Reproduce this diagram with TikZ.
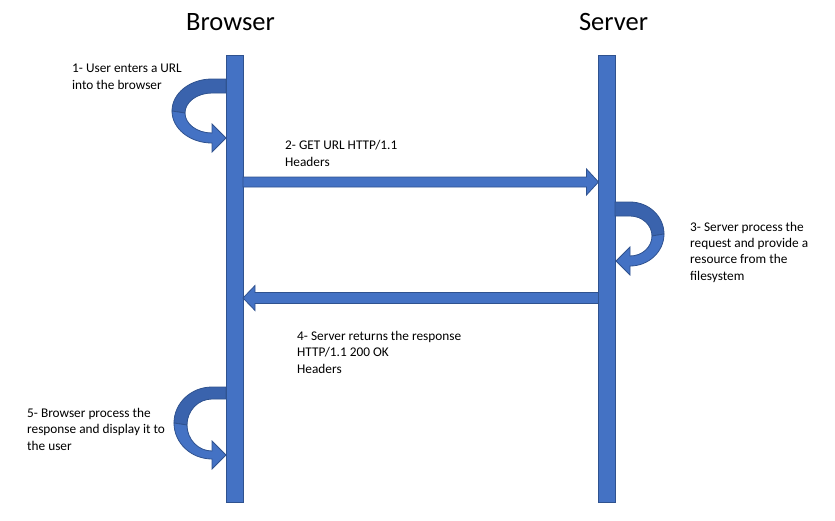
\documentclass[tikz,border=0pt]{standalone}
\usepackage{fontspec}
\setmainfont{Carlito}
\usepackage{tikz}
\usetikzlibrary{positioning,calc}
\definecolor{cFill}{HTML}{4472C4}
\definecolor{cEdge}{HTML}{2F528F}
\definecolor{cBack}{HTML}{3A63AD}
\tikzset{
  bar/.style={draw=cEdge, fill=cFill, line width=0.8pt, inner sep=0pt, outer sep=0pt,
              minimum width=17pt, minimum height=447pt},
  flat/.style={draw=cEdge, fill=cFill, line width=0.8pt, line join=miter},
  flatback/.style={flat, fill=cBack},
  hdr/.style={font=\fontsize{26.5}{30}\selectfont, anchor=base, inner sep=0pt},
  lbl/.style={font=\fontsize{13.3}{16.2}\selectfont, align=left, anchor=base west, inner sep=0pt}
}
\begin{document}
\begin{tikzpicture}[x=1pt, y=-1pt]
\useasboundingbox (0,0) rectangle (835,520);
% lifelines
\node[hdr] (browsertitle) at (230.5,30) {Browser};
\node[hdr] (servertitle) at (613.5,30) {Server};
\node[bar] (browserbar) at (234.5,278.5) {};
\node[bar] (serverbar) at (607,278.5) {};
% 1 - user enters url (self loop)
\draw[flatback] (226,79) -- (212,79) arc[start angle=270, end angle=180, x radius=40, y radius=32]
  -- (185,113) arc[start angle=180, end angle=270, x radius=27, y radius=20] -- (226,93) -- cycle;
\draw[flat] (172,111) arc[start angle=180, end angle=90, x radius=40, y radius=32]
  -- (212,152) -- (226,138) -- (212,124) -- (212,133)
  arc[start angle=90, end angle=180, x radius=27, y radius=20] -- cycle;
\node[lbl] (userurl) at (72,89) {1- User enters a URL\\into the browser};
% 2 - request
\coordinate (req) at (0,182);
\path (browserbar.east |- req) coordinate (reqA) (serverbar.west |- req) coordinate (reqB);
\draw[flat] ($(reqA)+(0,-5)$) -- ($(reqB)+(-12,-5)$) -- ($(reqB)+(-12,-13)$) -- (reqB)
  -- ($(reqB)+(-12,13)$) -- ($(reqB)+(-12,5)$) -- ($(reqA)+(0,5)$) -- cycle;
\node[lbl] (getreq) at (285,166) {2- GET URL HTTP/1.1\\Headers};
% 3 - server process (self loop)
\draw[flatback] (615,202) -- (630,202) arc[start angle=270, end angle=360, x radius=34, y radius=32]
  -- (652,236) arc[start angle=360, end angle=270, x radius=22, y radius=20] -- (615,216) -- cycle;
\draw[flat] (664,234) arc[start angle=0, end angle=90, x radius=34, y radius=32]
  -- (630,275) -- (616,261) -- (630,247) -- (630,256)
  arc[start angle=90, end angle=0, x radius=22, y radius=20] -- cycle;
\node[lbl] (process) at (690,280) {3- Server process the\\request and provide a\\resource from the\\filesystem};
% 4 - response
\coordinate (resp) at (0,298);
\path (serverbar.west |- resp) coordinate (respA) (browserbar.east |- resp) coordinate (respB);
\draw[flat] ($(respA)+(0,-5.5)$) -- ($(respB)+(12,-5.5)$) -- ($(respB)+(12,-12.5)$) -- (respB)
  -- ($(respB)+(12,12.5)$) -- ($(respB)+(12,5.5)$) -- ($(respA)+(0,5.5)$) -- cycle;
\node[lbl] (response) at (297,373) {4- Server returns the response\\HTTP/1.1 200 OK\\Headers};
% 5 - browser display (self loop)
\draw[flatback] (226,387) -- (212,387) arc[start angle=270, end angle=180, x radius=38, y radius=36]
  -- (187,425) arc[start angle=180, end angle=270, x radius=25, y radius=26] -- (226,399) -- cycle;
\draw[flat] (174,423) arc[start angle=180, end angle=90, x radius=38, y radius=36]
  -- (212,469) -- (226,455) -- (212,441) -- (212,451)
  arc[start angle=90, end angle=180, x radius=25, y radius=26] -- cycle;
\node[lbl] (display) at (27,450) {5- Browser process the\\response and display it to\\the user};
\end{tikzpicture}
\end{document}
